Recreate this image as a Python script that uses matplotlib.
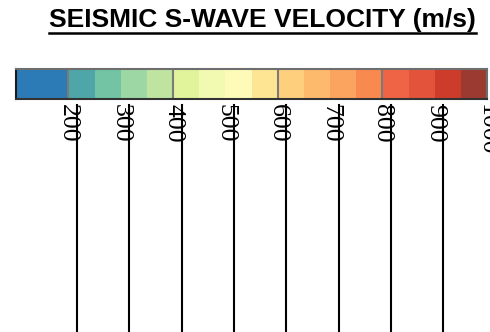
import matplotlib
matplotlib.use("Agg")
import matplotlib.pyplot as plt
import matplotlib.transforms as mtransforms
from matplotlib.lines import Line2D

# ---- data ----
bounds = [100, 200, 250, 300, 350, 400, 450, 500, 550, 600, 650, 700,
          750, 800, 850, 900, 950, 1000]
colors = ["#2c7bb6", "#4fa6a8", "#72c4a5", "#9dd8a4", "#bee49f", "#e1f39b",
          "#f2f9b1", "#fefbb9", "#fee593", "#fed07e", "#fdb96c", "#fba45f",
          "#f88a50", "#f06446", "#e3523b", "#cd3b2b", "#9a3a30"]
major = [200, 400, 600, 800, 1000]
ticks = [200, 300, 400, 500, 600, 700, 800, 900, 1000]
tick_labels = ["200", "300", "400", "500", "600", "700", "800", "900", "1000"]
title = "SEISMIC S-WAVE VELOCITY (m/s)"

W, H = 490, 332
fig = plt.figure(figsize=(W / 100, H / 100), dpi=100)

x0, x1 = 16, 487
ax = fig.add_axes([x0 / W, (H - 99) / H, (x1 - x0) / W, 30 / H])
lefts = bounds[:-1]
widths = [b - a for a, b in zip(bounds[:-1], bounds[1:])]
ax.bar(lefts, [1] * len(lefts), width=widths, align="edge", color=colors,
       edgecolor="none", linewidth=0)
ax.vlines(major, 0, 1, colors="#7a7a7a", linewidth=1.5)
ax.set_xlim(bounds[0], bounds[-1])
ax.set_ylim(0, 1)
ax.set_yticks([])
ax.set_xticks(ticks)
ax.set_xticklabels(tick_labels, rotation=270, family="Liberation Serif",
                   fontsize=18.5, va="top", ha="center")
ax.tick_params(axis="x", length=0, pad=3.5)
for side, sp in ax.spines.items():
    sp.set_linewidth(1.5)
    sp.set_color("#6e6e6e")
ax.spines["left"].set_color("#1a1a1a")
ax.spines["bottom"].set_color("#333333")

# lines below the labels
ax2 = fig.add_axes([x0 / W, 0, (x1 - x0) / W, (H - 105) / H])
ax2.set_xlim(bounds[0], bounds[-1])
ax2.set_ylim(0, 1)
ax2.axis("off")
off = mtransforms.offset_copy(ax2.transData, fig=fig, x=8.7, y=0, units="dots")
for t in ticks:
    ax2.add_line(Line2D([t, t], [0, 1], color="black", linewidth=1.5,
                        transform=off, clip_on=False))

# title with underline
txt = fig.text(262.5 / W, 1 - 20 / H, title, family="Liberation Sans",
               weight="bold", fontsize=19, ha="center", va="center")
fig.canvas.draw()
bb = txt.get_window_extent()
yline = 1 - 32.5 / H
fig.add_artist(Line2D([bb.x0 / W, bb.x1 / W], [yline, yline], color="black",
                      linewidth=1.8, transform=fig.transFigure))

fig.savefig("out.png", dpi=100)
